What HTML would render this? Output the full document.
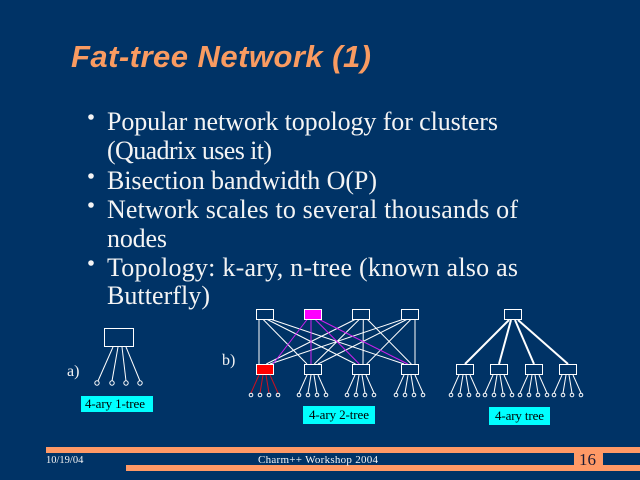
<!DOCTYPE html>
<html><head><meta charset="utf-8"><style>
html,body{margin:0;padding:0;background:#003366;}
svg{display:block;}
</style></head><body>
<svg width="640" height="480" viewBox="0 0 640 480" xmlns="http://www.w3.org/2000/svg">
<rect width="640" height="480" fill="#003366"/>
<text x="71" y="67" font-family="Liberation Sans, sans-serif" font-weight="bold" font-style="italic" font-size="31" fill="#F99B61" textLength="300" lengthAdjust="spacing">Fat-tree Network (1)</text>
<g font-family="Liberation Serif, serif" font-size="26" fill="#F4F4F4">
<circle cx="91" cy="117" r="2.8"/>
<text x="107" y="130" textLength="391" lengthAdjust="spacing">Popular network topology for clusters</text>
<text x="107" y="159" textLength="165" lengthAdjust="spacing">(Quadrix uses it)</text>
<circle cx="91" cy="176" r="2.8"/>
<text x="107" y="189" textLength="270" lengthAdjust="spacing">Bisection bandwidth O(P)</text>
<circle cx="91" cy="205" r="2.8"/>
<text x="107" y="218" textLength="411" lengthAdjust="spacing">Network scales to several thousands of</text>
<text x="107" y="247" textLength="60" lengthAdjust="spacing">nodes</text>
<circle cx="91" cy="263" r="2.8"/>
<text x="107" y="276" textLength="411" lengthAdjust="spacing">Topology: k-ary, n-tree (known also as</text>
<text x="107" y="304" textLength="103" lengthAdjust="spacing">Butterfly)</text>
</g>

<!-- a) tree -->
<g stroke="#FFFFFF" stroke-width="1" fill="none">
<rect x="104.5" y="328.5" width="29" height="18"/>
<line x1="113" y1="347" x2="98" y2="381"/>
<line x1="118" y1="347" x2="112" y2="381"/>
<line x1="122" y1="347" x2="126" y2="381"/>
<line x1="126" y1="347" x2="140" y2="381"/>
<circle cx="97" cy="383" r="2.2"/>
<circle cx="112" cy="383" r="2.2"/>
<circle cx="126" cy="383" r="2.2"/>
<circle cx="140" cy="383" r="2.2"/>
</g>
<g font-family="Liberation Serif, serif" fill="#F4F4F4" font-size="16">
<text x="67" y="376">a)</text>
<text x="222" y="365">b)</text>
</g>
<rect x="81" y="396" width="72" height="16" fill="#00FFFF"/>
<text x="85" y="408" font-family="Liberation Serif, serif" font-size="13" fill="#000" textLength="60" lengthAdjust="spacing">4-ary 1-tree</text>

<!-- b) fat-tree -->
<g stroke="#FFFFFF" stroke-width="1" fill="none" id="ft">
<!-- white links i->j -->
<line x1="259" y1="319" x2="259" y2="364"/>
<line x1="262.7" y1="319" x2="307" y2="364"/>
<line x1="266.3" y1="319" x2="355.5" y2="364"/>
<line x1="270" y1="319" x2="404" y2="364"/>

<line x1="356" y1="319" x2="266.3" y2="364"/>
<line x1="359.7" y1="319" x2="314.3" y2="364"/>
<line x1="363.3" y1="319" x2="363" y2="364"/>
<line x1="367" y1="319" x2="411.3" y2="364"/>

<line x1="404" y1="319" x2="270" y2="364"/>
<line x1="407.7" y1="319" x2="318" y2="364"/>
<line x1="411.3" y1="319" x2="366.7" y2="364"/>
<line x1="415" y1="319" x2="415" y2="364"/>
</g>
<g stroke="#D020F0" stroke-width="1" fill="none">
<line x1="307.5" y1="319" x2="273" y2="364"/>
<line x1="311" y1="319" x2="311" y2="364"/>
<line x1="314.7" y1="319" x2="359.3" y2="364"/>
<line x1="318.3" y1="319" x2="407.7" y2="364"/>
</g>
<g stroke="#FFFFFF" stroke-width="1">
<rect x="256.5" y="309.5" width="17" height="10" fill="#003366"/>
<rect x="304.5" y="309.5" width="17" height="10" fill="#FF00FF"/>
<rect x="352.5" y="309.5" width="17" height="10" fill="#003366"/>
<rect x="401.5" y="309.5" width="17" height="10" fill="#003366"/>
<rect x="256.5" y="364.5" width="17" height="10" fill="#FF0000"/>
<rect x="304.5" y="364.5" width="17" height="10" fill="#003366"/>
<rect x="352.5" y="364.5" width="17" height="10" fill="#003366"/>
<rect x="401.5" y="364.5" width="17" height="10" fill="#003366"/>
</g>
<!-- leaves b -->
<g stroke="#CC1020" stroke-width="1" fill="none">
<line x1="259" y1="375" x2="251" y2="393"/>
<line x1="263" y1="375" x2="260" y2="393"/>
<line x1="266" y1="375" x2="269" y2="393"/>
<line x1="270" y1="375" x2="278" y2="393"/>
</g>
<g stroke="#FFFFFF" stroke-width="1" fill="none">
<circle cx="251" cy="395" r="1.8"/><circle cx="260" cy="395" r="1.8"/><circle cx="269" cy="395" r="1.8"/><circle cx="278" cy="395" r="1.8"/>
<line x1="307" y1="375" x2="299" y2="393"/><line x1="311" y1="375" x2="308" y2="393"/><line x1="314" y1="375" x2="317" y2="393"/><line x1="318" y1="375" x2="326" y2="393"/>
<circle cx="299" cy="395" r="1.8"/><circle cx="308" cy="395" r="1.8"/><circle cx="317" cy="395" r="1.8"/><circle cx="326" cy="395" r="1.8"/>
<line x1="355" y1="375" x2="347" y2="393"/><line x1="359" y1="375" x2="356" y2="393"/><line x1="362" y1="375" x2="365" y2="393"/><line x1="366" y1="375" x2="374" y2="393"/>
<circle cx="347" cy="395" r="1.8"/><circle cx="356" cy="395" r="1.8"/><circle cx="365" cy="395" r="1.8"/><circle cx="374" cy="395" r="1.8"/>
<line x1="404" y1="375" x2="396" y2="393"/><line x1="408" y1="375" x2="405" y2="393"/><line x1="411" y1="375" x2="414" y2="393"/><line x1="415" y1="375" x2="423" y2="393"/>
<circle cx="396" cy="395" r="1.8"/><circle cx="405" cy="395" r="1.8"/><circle cx="414" cy="395" r="1.8"/><circle cx="423" cy="395" r="1.8"/>
</g>
<rect x="303" y="406" width="72" height="18" fill="#00FFFF"/>
<text x="309" y="419" font-family="Liberation Serif, serif" font-size="13" fill="#000" textLength="60" lengthAdjust="spacing">4-ary 2-tree</text>

<!-- c) tree -->
<g stroke="#FFFFFF" stroke-width="2" fill="none">
<line x1="509" y1="320" x2="465" y2="364"/>
<line x1="511" y1="320" x2="499" y2="364"/>
<line x1="515" y1="320" x2="534" y2="364"/>
<line x1="518" y1="320" x2="568" y2="364"/>
</g>
<g stroke="#FFFFFF" stroke-width="1" fill="#003366">
<rect x="504.5" y="309.5" width="17" height="10"/>
<rect x="456.5" y="364.5" width="17" height="10"/>
<rect x="490.5" y="364.5" width="17" height="10"/>
<rect x="525.5" y="364.5" width="17" height="10"/>
<rect x="559.5" y="364.5" width="17" height="10"/>
</g>
<g stroke="#FFFFFF" stroke-width="1" fill="none">
<line x1="459" y1="375" x2="451" y2="393"/><line x1="463" y1="375" x2="460" y2="393"/><line x1="466" y1="375" x2="469" y2="393"/><line x1="470" y1="375" x2="478" y2="393"/>
<circle cx="451" cy="395" r="1.8"/><circle cx="460" cy="395" r="1.8"/><circle cx="469" cy="395" r="1.8"/><circle cx="478" cy="395" r="1.8"/>
<line x1="493" y1="375" x2="485" y2="393"/><line x1="497" y1="375" x2="494" y2="393"/><line x1="500" y1="375" x2="503" y2="393"/><line x1="504" y1="375" x2="512" y2="393"/>
<circle cx="485" cy="395" r="1.8"/><circle cx="494" cy="395" r="1.8"/><circle cx="503" cy="395" r="1.8"/><circle cx="512" cy="395" r="1.8"/>
<line x1="528" y1="375" x2="520" y2="393"/><line x1="532" y1="375" x2="529" y2="393"/><line x1="535" y1="375" x2="538" y2="393"/><line x1="539" y1="375" x2="547" y2="393"/>
<circle cx="520" cy="395" r="1.8"/><circle cx="529" cy="395" r="1.8"/><circle cx="538" cy="395" r="1.8"/><circle cx="547" cy="395" r="1.8"/>
<line x1="562" y1="375" x2="554" y2="393"/><line x1="566" y1="375" x2="563" y2="393"/><line x1="569" y1="375" x2="572" y2="393"/><line x1="573" y1="375" x2="581" y2="393"/>
<circle cx="554" cy="395" r="1.8"/><circle cx="563" cy="395" r="1.8"/><circle cx="572" cy="395" r="1.8"/><circle cx="581" cy="395" r="1.8"/>
</g>
<rect x="489" y="407" width="61" height="18" fill="#00FFFF"/>
<text x="495" y="420" font-family="Liberation Serif, serif" font-size="13" fill="#000" textLength="49" lengthAdjust="spacing">4-ary tree</text>

<!-- footer -->
<rect x="46" y="447" width="594" height="6" fill="#FF9966"/>
<rect x="126" y="465" width="514" height="6" fill="#FF9966"/>
<rect x="574" y="447" width="29" height="24" fill="#FF9966"/>
<text x="46" y="463" font-family="Liberation Serif, serif" font-size="10.5" fill="#F4F4F4">10/19/04</text>
<text x="258" y="463" font-family="Liberation Serif, serif" font-size="11" fill="#F4F4F4" textLength="120" lengthAdjust="spacing">Charm++ Workshop 2004</text>
<text x="579" y="465" font-family="Liberation Serif, serif" font-size="17" fill="#1a1a33">16</text>
</svg>
</body></html>
